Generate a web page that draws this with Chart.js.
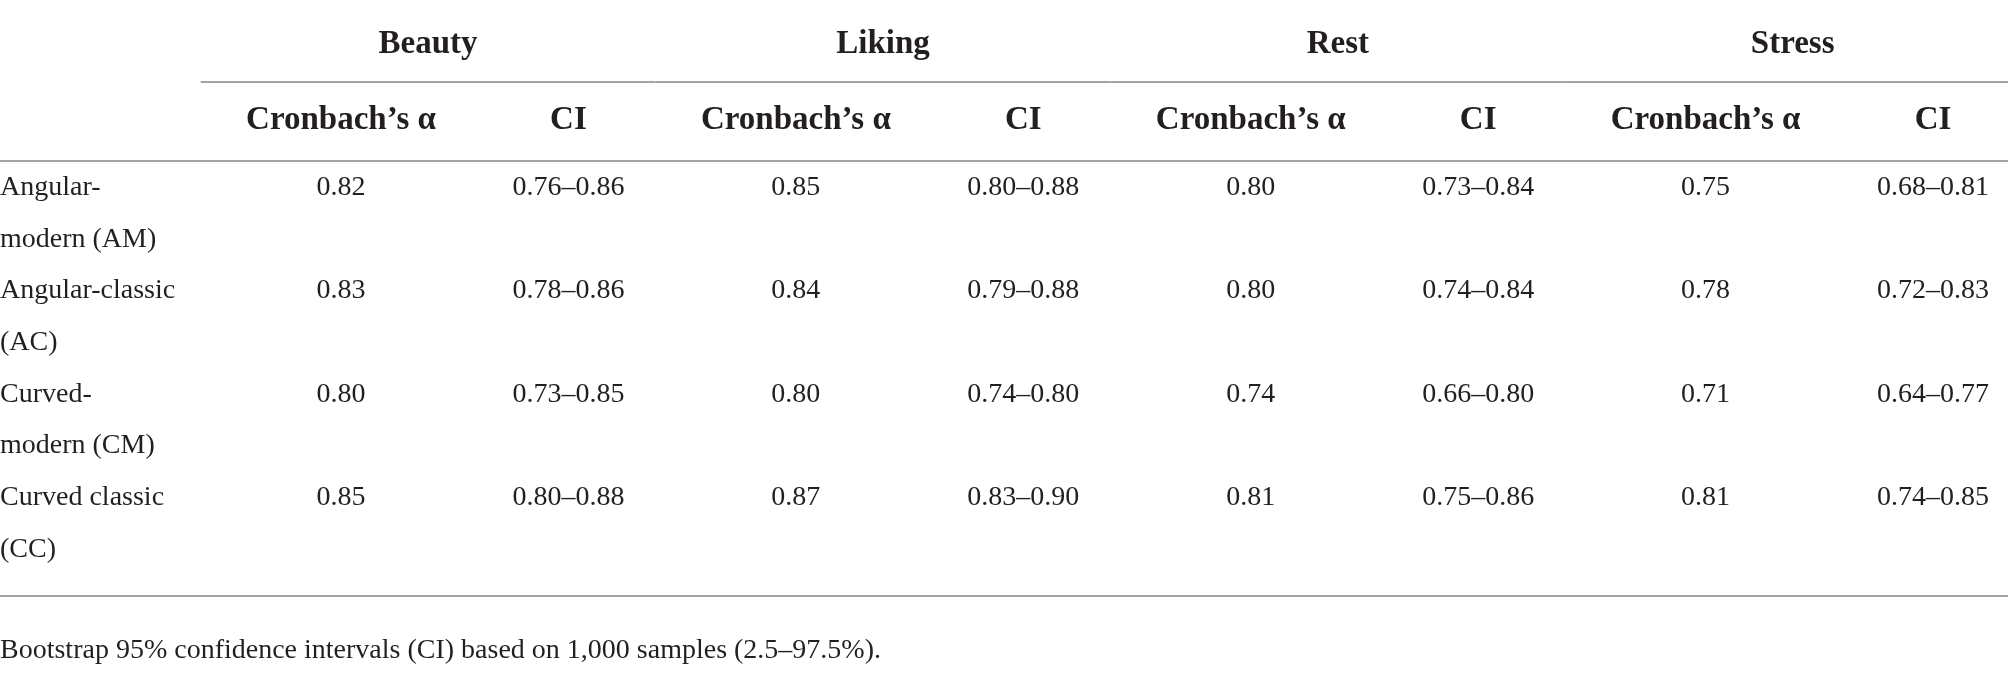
<!DOCTYPE html>
<html>
<head>
<meta charset="utf-8">
<script src="https://cdn.jsdelivr.net/npm/chart.js@4.4.1/dist/chart.umd.min.js"></script>
<style>
    html, body { margin: 0; padding: 0; background: #fff; }
</style>
</head>
<body>
<canvas id="tbl" width="2008" height="673"></canvas>
<script>
// table content
const groups = ['Beauty', 'Liking', 'Rest', 'Stress'];
const subHeaders = ['Cronbach\u2019s \u03b1', 'CI'];
const rowLabels = [
    ['Angular-', 'modern (AM)'],
    ['Angular-classic', '(AC)'],
    ['Curved-', 'modern (CM)'],
    ['Curved classic', '(CC)']
];
const beautyAlpha = [0.82, 0.83, 0.80, 0.85];
const beautyCI = ['0.76\u20130.86', '0.78\u20130.86', '0.73\u20130.85', '0.80\u20130.88'];
const likingAlpha = [0.85, 0.84, 0.80, 0.87];
const likingCI = ['0.80\u20130.88', '0.79\u20130.88', '0.74\u20130.80', '0.83\u20130.90'];
const restAlpha = [0.80, 0.80, 0.74, 0.81];
const restCI = ['0.73\u20130.84', '0.74\u20130.84', '0.66\u20130.80', '0.75\u20130.86'];
const stressAlpha = [0.75, 0.78, 0.71, 0.81];
const stressCI = ['0.68\u20130.81', '0.72\u20130.83', '0.64\u20130.77', '0.74\u20130.85'];
const footnote = 'Bootstrap 95% confidence intervals (CI) based on 1,000 samples (2.5\u201397.5%).';

// layout (x in column units, y in text-line units)
const X_MIN = -1.4994, X_MAX = 7.3297;
const Y_MIN = -3.772, Y_MAX = 9.246;
const GROUP_Y = -2.75, RULE1_Y = -2.186, SUB_Y = -1.277, RULE2_Y = -0.658;
const RULE3_Y = 7.756, NOTE_Y = 8.956;
const GROUP_OFFSET = 0.383, GROUP_HALF = 1.0;

const TEXT = '#231f20';
const RULE = '#a3a3a3';
const bodyFont = '28px "Liberation Serif", "Times New Roman", serif';
const headFont = 'bold 33px "Liberation Serif", "Times New Roman", serif';

const columns = [beautyAlpha, beautyCI, likingAlpha, likingCI, restAlpha, restCI, stressAlpha, stressCI];

var datasets = [];
columns.forEach(function (col, c) {
    datasets.push({
        data: col.map((v, r) => ({ x: c, y: 2 * r })),
        cellText: col.map(v => typeof v === 'number' ? v.toFixed(2) : v),
        align: 'center',
        pointRadius: 0
    });
});
// row label column, two lines per row
var labelPts = [], labelTxt = [];
rowLabels.forEach(function (lines, r) {
    lines.forEach(function (t, k) {
        labelPts.push({ x: X_MIN, y: 2 * r + k });
        labelTxt.push(t);
    });
});
datasets.push({ data: labelPts, cellText: labelTxt, align: 'left', pointRadius: 0 });

function hLine(ctx, x0, x1, y) {
    ctx.beginPath();
    ctx.moveTo(x0, y);
    ctx.lineTo(x1, y);
    ctx.stroke();
}

const tablePlugin = {
    id: 'tablePlugin',
    afterDatasetsDraw: function (chart) {
        var ctx = chart.ctx;
        var xs = chart.scales.x, ys = chart.scales.y;
        ctx.save();
        ctx.fillStyle = TEXT;
        ctx.textBaseline = 'alphabetic';

        // rules
        ctx.strokeStyle = RULE;
        ctx.lineWidth = 2;
        groups.forEach(function (g, i) {
            hLine(ctx, xs.getPixelForValue(2 * i + GROUP_OFFSET - GROUP_HALF),
                xs.getPixelForValue(2 * i + GROUP_OFFSET + GROUP_HALF), ys.getPixelForValue(RULE1_Y));
        });
        hLine(ctx, xs.left, xs.right, ys.getPixelForValue(RULE2_Y));
        hLine(ctx, xs.left, xs.right, ys.getPixelForValue(RULE3_Y));

        // headers
        ctx.font = headFont;
        ctx.textAlign = 'center';
        groups.forEach(function (g, i) {
            ctx.fillText(g, xs.getPixelForValue(2 * i + GROUP_OFFSET), ys.getPixelForValue(GROUP_Y));
            subHeaders.forEach(function (s, k) {
                ctx.fillText(s, xs.getPixelForValue(2 * i + k), ys.getPixelForValue(SUB_Y));
            });
        });

        // body cells
        ctx.font = bodyFont;
        chart.data.datasets.forEach(function (ds, i) {
            var meta = chart.getDatasetMeta(i);
            ctx.textAlign = ds.align;
            meta.data.forEach(function (pt, j) {
                ctx.fillText(ds.cellText[j], pt.x, pt.y);
            });
        });

        // footnote
        ctx.textAlign = 'left';
        ctx.fillText(footnote, xs.getPixelForValue(X_MIN), ys.getPixelForValue(NOTE_Y));
        ctx.restore();
    }
};

var myTable = new Chart(document.getElementById('tbl').getContext('2d'), {
    type: 'scatter',
    data: { datasets: datasets },
    options: {
        responsive: false,
        animation: false,
        devicePixelRatio: 1,
        events: [],
        layout: { padding: 0 },
        scales: {
            x: { type: 'linear', min: X_MIN, max: X_MAX, display: false },
            y: { type: 'linear', min: Y_MIN, max: Y_MAX, reverse: true, display: false }
        },
        plugins: {
            legend: { display: false },
            tooltip: { enabled: false }
        }
    },
    plugins: [tablePlugin]
});
</script>
</body>
</html>
